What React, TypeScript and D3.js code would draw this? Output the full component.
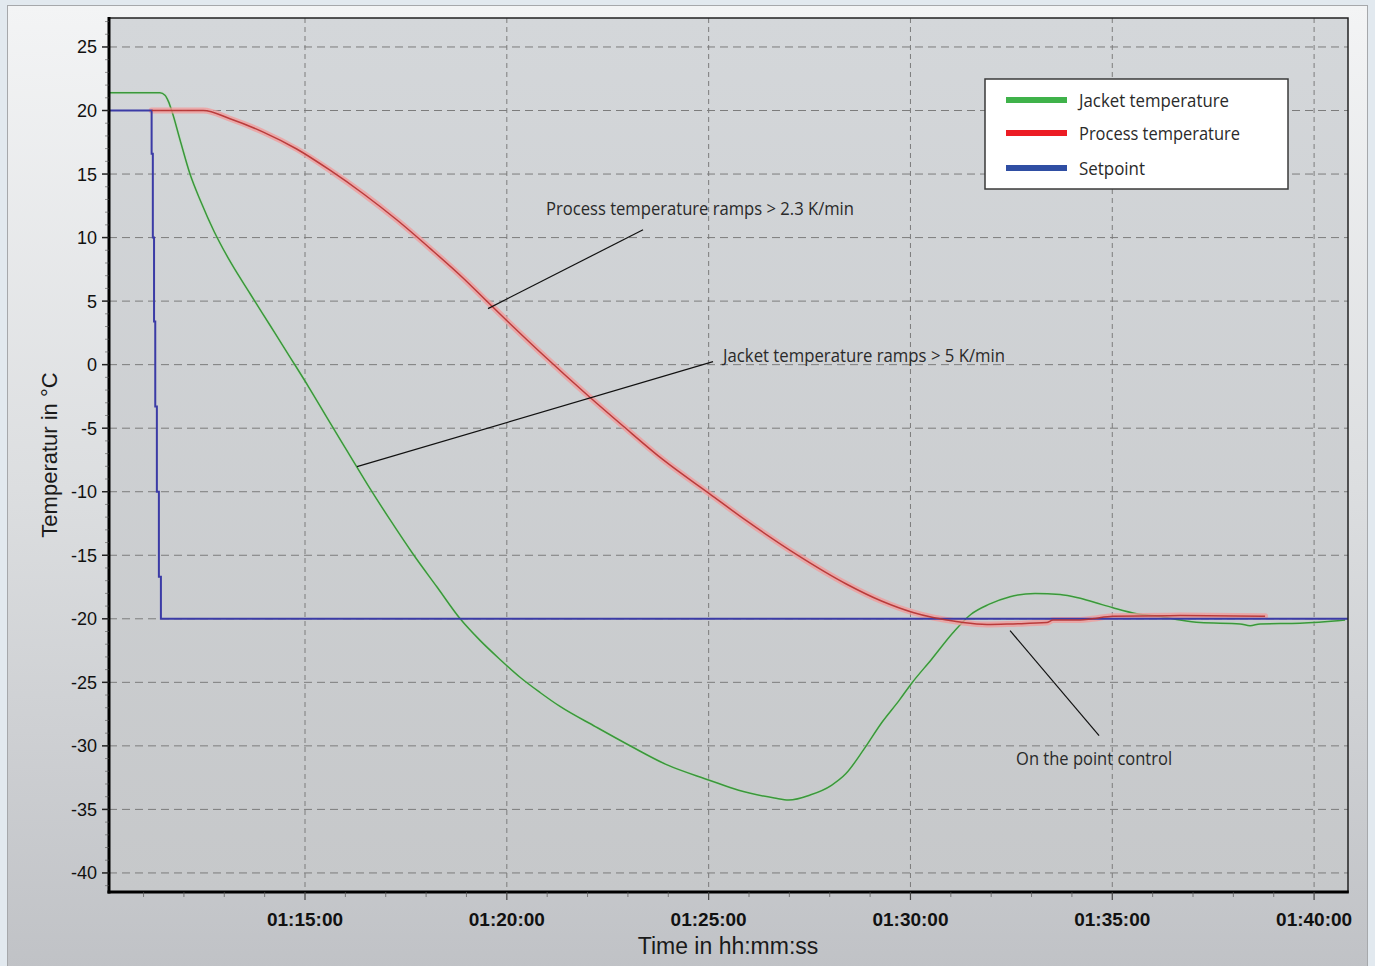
import React from "react";
import * as d3 from "d3";

// time in minutes after 01:00:00, temperatures in °C
const jacketMinutes = [
  10.144, 11.407, 11.531, 11.618, 11.697, 11.903, 12.151, 12.423, 12.745, 13.167,
  13.637, 14.133, 14.628, 15.099, 15.57, 16.065, 16.561, 17.106, 17.676, 18.271,
  18.845, 19.336, 19.832, 20.327, 20.823, 21.318, 22.203, 23.087, 23.972, 25.017,
  25.743, 26.628, 26.982, 27.512, 28.043, 28.397, 28.84, 29.282, 29.725, 30.035,
  30.52, 31.053, 31.494, 31.938, 32.468, 33.087, 33.707, 34.151, 34.592, 35.017,
  35.607, 36.259, 36.68, 37.176, 38.167, 38.414, 38.662, 39.653, 40.768,
];
const jacketValues = [
  21.4, 21.4, 21.2, 20.7, 20.0, 17.7, 15.0, 12.8, 10.5, 8.0,
  5.6, 3.1, 0.6, -1.8, -4.3, -6.9, -9.5, -12.2, -14.9, -17.5,
  -20.0, -21.7, -23.2, -24.6, -25.8, -26.9, -28.5, -30.05, -31.5, -32.7,
  -33.5, -34.1, -34.26, -33.87, -33.1, -32.2, -30.3, -28.2, -26.4, -25.05,
  -23.2, -21.1, -19.66, -18.87, -18.26, -18.0, -18.08, -18.34, -18.74, -19.13,
  -19.6, -19.85, -20.1, -20.3, -20.4, -20.55, -20.4, -20.35, -20.1,
];

const processMinutes = [
  11.202, 12.48, 13.142, 13.967, 14.794, 15.619, 16.444, 17.272, 18.097, 18.922,
  19.502, 20.022, 20.989, 21.98, 22.887, 23.878, 25.017, 25.944, 27.183, 28.422,
  29.282, 30.064, 30.56, 30.899, 31.303, 31.89, 32.542, 33.377, 33.533, 34.202,
  34.5, 35.02, 36.68, 38.786,
];
const processValues = [
  20, 20, 19.35, 18.3, 16.97, 15.3, 13.45, 11.4, 9.15, 6.8,
  5.0, 3.4, 0.5, -2.35, -4.85, -7.5, -10.15, -12.3, -14.95, -17.28,
  -18.6, -19.5, -19.9, -20.1, -20.3, -20.45, -20.4, -20.3, -20.1, -20.1,
  -20.0, -19.8, -19.75, -19.8,
];

const setpointMinutes = [10.144, 11.2, 11.23, 11.26, 11.29, 11.33, 11.38, 11.43, 40.84];
const setpointValues = [20, 16.6, 10, 3.4, -3.3, -10, -16.7, -20, -20];

const xTickMinutes = [15, 20, 25, 30, 35, 40];
const xTickLabels = ["01:15:00", "01:20:00", "01:25:00", "01:30:00", "01:35:00", "01:40:00"];
const yTicks = [25, 20, 15, 10, 5, 0, -5, -10, -15, -20, -25, -30, -35, -40];

const legendLabels = ["Jacket temperature", "Process temperature", "Setpoint"];
const legendColors = ["#3fb24a", "#ec1c24", "#2f4ea3"];
const legendTextWidths = [150, 161, 66];

const annotationTexts = [
  "Process temperature ramps > 2.3 K/min",
  "Jacket temperature ramps > 5 K/min",
  "On the point control",
];
const annotationTextPos = [
  [20.97, 11.8],
  [25.357, 0.24],
  [32.617, -31.48],
];
const annotationTextWidths = [308, 282, 156];
const annotationLines = [
  [[23.375, 10.62], [19.534, 4.41]],
  [[25.109, 0.236], [16.288, -8.03]],
  [[32.468, -20.93], [34.673, -29.19]],
];

const W = 1375;
const H = 966;
const PL = 109, PR = 1348, PT = 18, PB = 892;

export default function App() {
  const x = d3.scaleLinear().domain([10.144, 40.84]).range([PL, PR]);
  const y = d3.scaleLinear().domain([-41.5, 27.28]).range([PB, PT]);

  const jacket = jacketMinutes.map((m, i) => [m, jacketValues[i]] as [number, number]);
  const proc = processMinutes.map((m, i) => [m, processValues[i]] as [number, number]);
  const setp = setpointMinutes.map((m, i) => [m, setpointValues[i]] as [number, number]);

  const smooth = d3
    .line<[number, number]>()
    .x((d) => x(d[0]))
    .y((d) => y(d[1]))
    .curve(d3.curveMonotoneX);
  const step = d3
    .line<[number, number]>()
    .x((d) => x(d[0]))
    .y((d) => y(d[1]))
    .curve(d3.curveStepAfter);

  const minorX = d3.range(11, 41, 1).filter((m) => m % 5 !== 0);
  const minorY = d3.range(-41, 28, 1).filter((v) => v % 5 !== 0);

  const legendX = 985, legendY = 79, legendW = 303, legendH = 110;
  const legendRowY = [100, 133, 168];

  return (
    <svg
      width={W}
      height={H}
      style={{ position: "absolute", left: 0, top: 0, display: "block" }}
      fontFamily="'Liberation Sans', Arial, sans-serif"
    >
      <defs>
        <linearGradient id="panelGrad" x1="0" y1="0" x2="0" y2="1">
          <stop offset="0" stopColor="#f3f4f5" />
          <stop offset="0.5" stopColor="#dcdee0" />
          <stop offset="1" stopColor="#c0c2c6" />
        </linearGradient>
        <linearGradient id="plotGrad" x1="0" y1="0" x2="0" y2="1">
          <stop offset="0" stopColor="#d4d7da" />
          <stop offset="1" stopColor="#c6c8ca" />
        </linearGradient>
      </defs>
      <rect x={0} y={0} width={W} height={H} fill="#e2e9ef" />
      <rect x={7.5} y={5.5} width={1360} height={H} fill="url(#panelGrad)" stroke="#a6a8ab" strokeWidth={1} />

      {/* plot area */}
      <rect x={PL} y={PT} width={PR - PL} height={PB - PT} fill="url(#plotGrad)" />

      {/* grid */}
      {yTicks.map((v) => (
        <line key={"gy" + v} x1={PL} x2={PR} y1={y(v)} y2={y(v)} stroke="#7c7c7c" strokeWidth={1} strokeDasharray="8,5" />
      ))}
      {xTickMinutes.map((m) => (
        <line key={"gx" + m} x1={x(m)} x2={x(m)} y1={PT} y2={PB} stroke="#7c7c7c" strokeWidth={1} strokeDasharray="5,4" />
      ))}

      {/* series */}
      <path d={smooth(jacket) || ""} fill="none" stroke="#b8e0b8" strokeWidth={3.5} strokeOpacity={0.35} />
      <path d={smooth(jacket) || ""} fill="none" stroke="#3a983a" strokeWidth={1.5} />
      <path d={smooth(proc) || ""} fill="none" stroke="#f29a9a" strokeWidth={6} strokeOpacity={0.75} strokeLinecap="round" />
      <path d={step(setp) || ""} fill="none" stroke="#3b3ba6" strokeWidth={2} />
      <path d={smooth(proc) || ""} fill="none" stroke="#b53030" strokeWidth={1.5} strokeOpacity={0.9} />

      {/* annotations */}
      {annotationLines.map((ln, i) => (
        <line
          key={"al" + i}
          x1={x(ln[0][0])}
          y1={y(ln[0][1])}
          x2={x(ln[1][0])}
          y2={y(ln[1][1])}
          stroke="#111"
          strokeWidth={1.2}
        />
      ))}
      {annotationTexts.map((t, i) => (
        <text
          key={"at" + i}
          x={x(annotationTextPos[i][0])}
          y={y(annotationTextPos[i][1])}
          fontFamily="'Open Sans', sans-serif"
          fontSize={19}
          fill="#2a2a2a"
          textLength={annotationTextWidths[i]}
          lengthAdjust="spacingAndGlyphs"
        >
          {t}
        </text>
      ))}

      {/* frame */}
      <rect x={PL} y={PT} width={PR - PL} height={PB - PT} fill="none" stroke="#222" strokeWidth={1.5} />
      <line x1={PL} x2={PL} y1={PT - 1} y2={PB + 1.5} stroke="#000" strokeWidth={3} />
      <line x1={PL - 1.5} x2={PR + 0.75} y1={PB} y2={PB} stroke="#000" strokeWidth={3} />

      {/* y ticks */}
      {minorY.map((v) => (
        <line key={"my" + v} x1={PL - 4} x2={PL} y1={y(v)} y2={y(v)} stroke="#555" strokeWidth={1} strokeOpacity={0.6} />
      ))}
      {yTicks.map((v) => (
        <g key={"ty" + v}>
          <line x1={PL - 7} x2={PL} y1={y(v)} y2={y(v)} stroke="#222" strokeWidth={1.5} />
          <text x={97} y={y(v)} dy="0.36em" textAnchor="end" fontSize={18} fill="#111">
            {v}
          </text>
        </g>
      ))}

      {/* x ticks */}
      {minorX.map((m) => (
        <line key={"mx" + m} x1={x(m)} x2={x(m)} y1={PB} y2={PB + 5} stroke="#555" strokeWidth={1} strokeOpacity={0.7} />
      ))}
      {xTickMinutes.map((m, i) => (
        <g key={"tx" + m}>
          <line x1={x(m)} x2={x(m)} y1={PB} y2={PB + 8} stroke="#444" strokeWidth={1.2} />
          <text x={x(m)} y={926} textAnchor="middle" fontSize={19} fontWeight="bold" fill="#111">
            {xTickLabels[i]}
          </text>
        </g>
      ))}

      {/* axis titles */}
      <text x={728} y={954} textAnchor="middle" fontSize={23} fill="#1a1a1a">
        Time in hh:mm:ss
      </text>
      <text transform="translate(57,455) rotate(-90)" textAnchor="middle" fontSize={22} fill="#1a1a1a">
        Temperatur in °C
      </text>

      {/* legend */}
      <rect x={legendX} y={legendY} width={legendW} height={legendH} fill="#ffffff" stroke="#3a3a3a" strokeWidth={1.5} />
      {legendLabels.map((lab, i) => (
        <g key={"lg" + i}>
          <line x1={1006} x2={1067} y1={legendRowY[i]} y2={legendRowY[i]} stroke={legendColors[i]} strokeWidth={6} />
          <text
            x={1079}
            y={legendRowY[i] + 7}
            fontFamily="'Open Sans', sans-serif"
            fontSize={19}
            fill="#2a2a2a"
            textLength={legendTextWidths[i]}
            lengthAdjust="spacingAndGlyphs"
          >
            {lab}
          </text>
        </g>
      ))}
    </svg>
  );
}
